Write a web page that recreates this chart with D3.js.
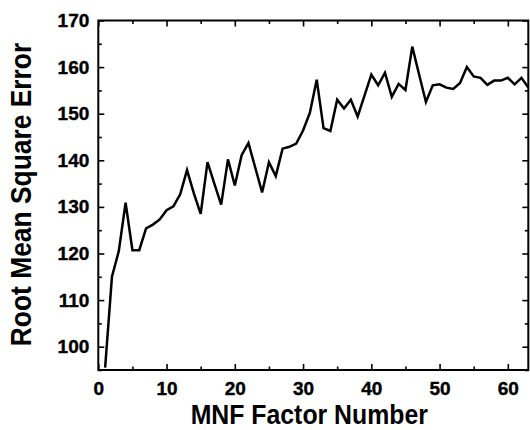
<!DOCTYPE html>
<html>
<head>
<meta charset="utf-8">
<script src="https://cdnjs.cloudflare.com/ajax/libs/d3/7.8.5/d3.min.js"></script>
<style>
  body { margin: 0; background: #fff; }
  text { font-family: "Liberation Sans", Arial, sans-serif; font-weight: bold; fill: #000; }
</style>
</head>
<body>
<svg id="chart"></svg>
<script>
const width = 530;
const height = 430;
const margin = { top: 20.5, right: 1.7, bottom: 60, left: 98.3 };

// factor numbers 1..63 and the RMSE
const factors = d3.range(1, 64);
const rmse = [
  95.5, 115.0, 120.5, 130.9, 120.7, 120.7, 125.4, 126.2, 127.3, 129.3,
  130.1, 132.7, 137.9, 132.9, 128.5, 139.6, 135.0, 130.5, 140.2, 134.6,
  141.1, 143.7, 138.4, 133.1, 139.6, 136.6, 142.5, 142.9, 143.6, 146.4,
  150.2, 157.3, 146.9, 146.3, 153.0, 151.1, 153.0, 149.4, 153.9, 158.4,
  156.1, 158.8, 153.6, 156.4, 155.1, 164.4, 158.4, 152.5, 156.1, 156.3,
  155.6, 155.3, 156.6, 160.0, 158.0, 157.7, 156.2, 157.1, 157.1, 157.7,
  156.3, 157.7, 155.6
];
const xTicks = [0, 10, 20, 30, 40, 50, 60];
const yTicks = [100, 110, 120, 130, 140, 150, 160, 170];
const xMinor = d3.range(5, 63, 10);
const yMinor = d3.range(95, 170, 10);

const innerW = width - margin.left - margin.right;
const innerH = height - margin.top - margin.bottom;

const svg = d3.select('#chart')
  .attr('width', width)
  .attr('height', height);

const x = d3.scaleLinear().domain([0, 63]).range([margin.left, margin.left + innerW]);
const y = d3.scaleLinear().domain([95, 170]).range([margin.top + innerH, margin.top]);

// clip for the line
svg.append('clipPath').attr('id', 'clip')
  .append('rect')
  .attr('x', margin.left).attr('y', margin.top)
  .attr('width', innerW).attr('height', innerH);

const data = factors.map((f, i) => ({ f, v: rmse[i] }));

svg.append('path')
  .datum(data)
  .attr('clip-path', 'url(#clip)')
  .attr('fill', 'none')
  .attr('stroke', '#000')
  .attr('stroke-width', 2.5)
  .attr('stroke-linejoin', 'miter')
  .attr('d', d3.line().x(d => x(d.f)).y(d => y(d.v)));

// ===========================================================================
//      axes (ticks inside, mirrored on all sides)
// ===========================================================================
const major = 6;
const minor = 3.5;

const gBottom = svg.append('g').attr('transform', `translate(0,${margin.top + innerH})`);
gBottom.call(d3.axisBottom(x).tickValues(xTicks).tickSizeInner(-major).tickSizeOuter(0).tickPadding(12));
gBottom.append('g').call(d3.axisBottom(x).tickValues(xMinor).tickSize(-minor).tickFormat(''));

const gTop = svg.append('g').attr('transform', `translate(0,${margin.top})`);
gTop.call(d3.axisTop(x).tickValues(xTicks).tickSize(-major).tickFormat(''));
gTop.append('g').call(d3.axisTop(x).tickValues(xMinor).tickSize(-minor).tickFormat(''));

const gLeft = svg.append('g').attr('transform', `translate(${margin.left},0)`);
gLeft.call(d3.axisLeft(y).tickValues(yTicks).tickSizeInner(-major).tickSizeOuter(0).tickPadding(9));
gLeft.append('g').call(d3.axisLeft(y).tickValues(yMinor).tickSize(-minor).tickFormat(''));

const gRight = svg.append('g').attr('transform', `translate(${margin.left + innerW},0)`);
gRight.call(d3.axisRight(y).tickValues(yTicks).tickSize(-major).tickFormat(''));
gRight.append('g').call(d3.axisRight(y).tickValues(yMinor).tickSize(-minor).tickFormat(''));

svg.selectAll('.domain').remove();
svg.selectAll('.tick line').attr('stroke', '#000').attr('stroke-width', 1.6);
svg.selectAll('.tick text')
  .attr('font-size', 19)
  .attr('font-family', '"Liberation Sans", Arial, sans-serif')
  .attr('font-weight', 'bold')
  .attr('fill', '#000')
  .attr('stroke', '#000')
  .attr('stroke-width', 0.4);

svg.append('rect')
  .attr('x', margin.left).attr('y', margin.top)
  .attr('width', innerW).attr('height', innerH)
  .attr('fill', 'none')
  .attr('stroke', '#000')
  .attr('stroke-width', 2);

// ===========================================================================
//      titles (slightly condensed like the original)
// ===========================================================================
svg.append('text')
  .attr('transform', `translate(${margin.left + innerW / 2 - 4},424) scale(0.92,1)`)
  .attr('text-anchor', 'middle')
  .attr('font-size', 27)
  .text('MNF Factor Number');

svg.append('text')
  .attr('transform', `translate(31,194.5) rotate(-90) scale(0.91,1)`)
  .attr('text-anchor', 'middle')
  .attr('font-size', 29)
  .text('Root Mean Square Error');
</script>
</body>
</html>
